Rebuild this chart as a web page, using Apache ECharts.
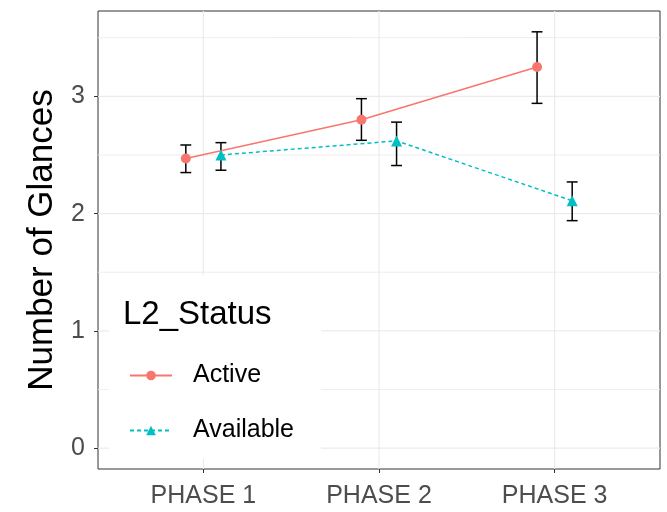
<!DOCTYPE html>
<html>
<head>
<meta charset="utf-8">
<script src="https://cdn.jsdelivr.net/npm/echarts@6/dist/echarts.min.js"></script>
<style>
  html, body { margin: 0; padding: 0; background: #fff; }
  #main { width: 667px; height: 512px; }
</style>
</head>
<body>
<div id="main"></div>
<script>
// 数据
const phases = ['PHASE 1', 'PHASE 2', 'PHASE 3'];
const activeMean = [2.47, 2.80, 3.25];
const activeLow = [2.35, 2.625, 2.94];
const activeHigh = [2.585, 2.98, 3.55];
const availMean = [2.50, 2.62, 2.11];
const availLow = [2.37, 2.41, 1.94];
const availHigh = [2.605, 2.78, 2.27];
const yTicks = [0, 1, 2, 3];
const yMinor = [0.5, 1.5, 2.5, 3.5];

const dodge = 0.1; // 并列偏移
const font = '"Liberation Sans", Arial, sans-serif';

function points(mean, off) {
  return mean.map((v, i) => [i + off, v]);
}
function bars(low, high, off) {
  return low.map((v, i) => [i + off, v, high[i]]);
}

// 误差线
function renderErrorBar(params, api) {
  const x = api.value(0);
  const lo = api.coord([x, api.value(1)]);
  const hi = api.coord([x, api.value(2)]);
  const half = (api.coord([x + 0.031, 0])[0] - api.coord([x, 0])[0]);
  const style = { stroke: '#000', lineWidth: 1.5 };
  return {
    type: 'group',
    children: [
      { type: 'line', shape: { x1: lo[0], y1: lo[1], x2: hi[0], y2: hi[1] }, style: style },
      { type: 'line', shape: { x1: hi[0] - half, y1: hi[1], x2: hi[0] + half, y2: hi[1] }, style: style },
      { type: 'line', shape: { x1: lo[0] - half, y1: lo[1], x2: lo[0] + half, y2: lo[1] }, style: style }
    ]
  };
}

// 网格线
function renderVGrid(params, api) {
  const cs = params.coordSys;
  const x = api.coord([api.value(0), 0])[0];
  return { type: 'line', shape: { x1: x, y1: cs.y, x2: x, y2: cs.y + cs.height },
    style: { stroke: '#ebebeb', lineWidth: 1.2 } };
}
function renderHGrid(lw) {
  return function (params, api) {
    const cs = params.coordSys;
    const y = api.coord([0, api.value(1)])[1];
    return { type: 'line', shape: { x1: cs.x, y1: y, x2: cs.x + cs.width, y2: y },
      style: { stroke: '#ebebeb', lineWidth: lw } };
  };
}

const chart = echarts.init(document.getElementById('main'));
const option = {
  animation: false,
  textStyle: { fontFamily: font },
  title: {
    text: 'L2_Status',
    left: 118,
    top: 293,
    textStyle: { fontSize: 33, fontWeight: 'normal', color: '#000', fontFamily: font }
  },
  legend: {
    data: ['Active', 'Available'],
    orient: 'vertical',
    left: 124,
    top: 358,
    itemWidth: 42,
    itemHeight: 12,
    itemGap: 30,
    textStyle: { fontSize: 25, color: '#000', fontFamily: font, padding: [0, 0, 0, 16] }
  },
  graphic: [{
    type: 'rect',
    z: 3,
    shape: { x: 109, y: 275, width: 212, height: 184 },
    style: { fill: '#fff' }
  }],
  grid: {
    left: 98, right: 7, top: 11, bottom: 43,
    show: true, borderColor: '#333', borderWidth: 1, backgroundColor: '#fff'
  },
  xAxis: {
    type: 'value',
    min: -0.6,
    max: 2.6,
    axisLine: { show: false, onZero: false },
    splitLine: { show: false },
    axisTick: { show: true, customValues: [0, 1, 2], length: 4, lineStyle: { color: '#333' } },
    axisLabel: {
      customValues: [0, 1, 2],
      formatter: v => phases[Math.round(v)],
      fontSize: 25, color: '#4d4d4d', margin: 15, fontFamily: font
    }
  },
  yAxis: {
    type: 'value',
    min: -0.1775,
    max: 3.7275,
    name: 'Number of Glances',
    nameLocation: 'middle',
    nameGap: 36,
    nameTextStyle: { fontSize: 35, color: '#000', fontFamily: font },
    axisLine: { show: false, onZero: false },
    splitLine: { show: false },
    axisTick: { show: true, customValues: yTicks, length: 4, lineStyle: { color: '#333' } },
    axisLabel: { customValues: yTicks, fontSize: 25, color: '#4d4d4d', margin: 13, fontFamily: font }
  },
  series: [
    { type: 'custom', z: 0, silent: true, renderItem: renderVGrid,
      data: phases.map((p, i) => [i, 0]) },
    { type: 'custom', z: 0, silent: true, renderItem: renderHGrid(1.2),
      data: yTicks.map(v => [0, v]) },
    { type: 'custom', z: 0, silent: true, renderItem: renderHGrid(0.9),
      data: yMinor.map(v => [0, v]) },
    { type: 'custom', z: 1, silent: true, renderItem: renderErrorBar,
      data: bars(activeLow, activeHigh, -dodge) },
    { type: 'custom', z: 1, silent: true, renderItem: renderErrorBar,
      data: bars(availLow, availHigh, dodge) },
    {
      name: 'Active',
      type: 'line',
      z: 2,
      data: points(activeMean, -dodge),
      symbol: 'circle',
      symbolSize: 10,
      color: '#F8766D',
      lineStyle: { color: '#F8766D', width: 1.5 },
      itemStyle: { color: '#F8766D' }
    },
    {
      name: 'Available',
      type: 'line',
      z: 2,
      data: points(availMean, dodge),
      symbol: 'triangle',
      symbolSize: 11,
      color: '#00BFC4',
      lineStyle: { color: '#00BFC4', width: 1.5, type: [4, 3] },
      itemStyle: { color: '#00BFC4' }
    }
  ]
};
chart.setOption(option);
</script>
</body>
</html>
